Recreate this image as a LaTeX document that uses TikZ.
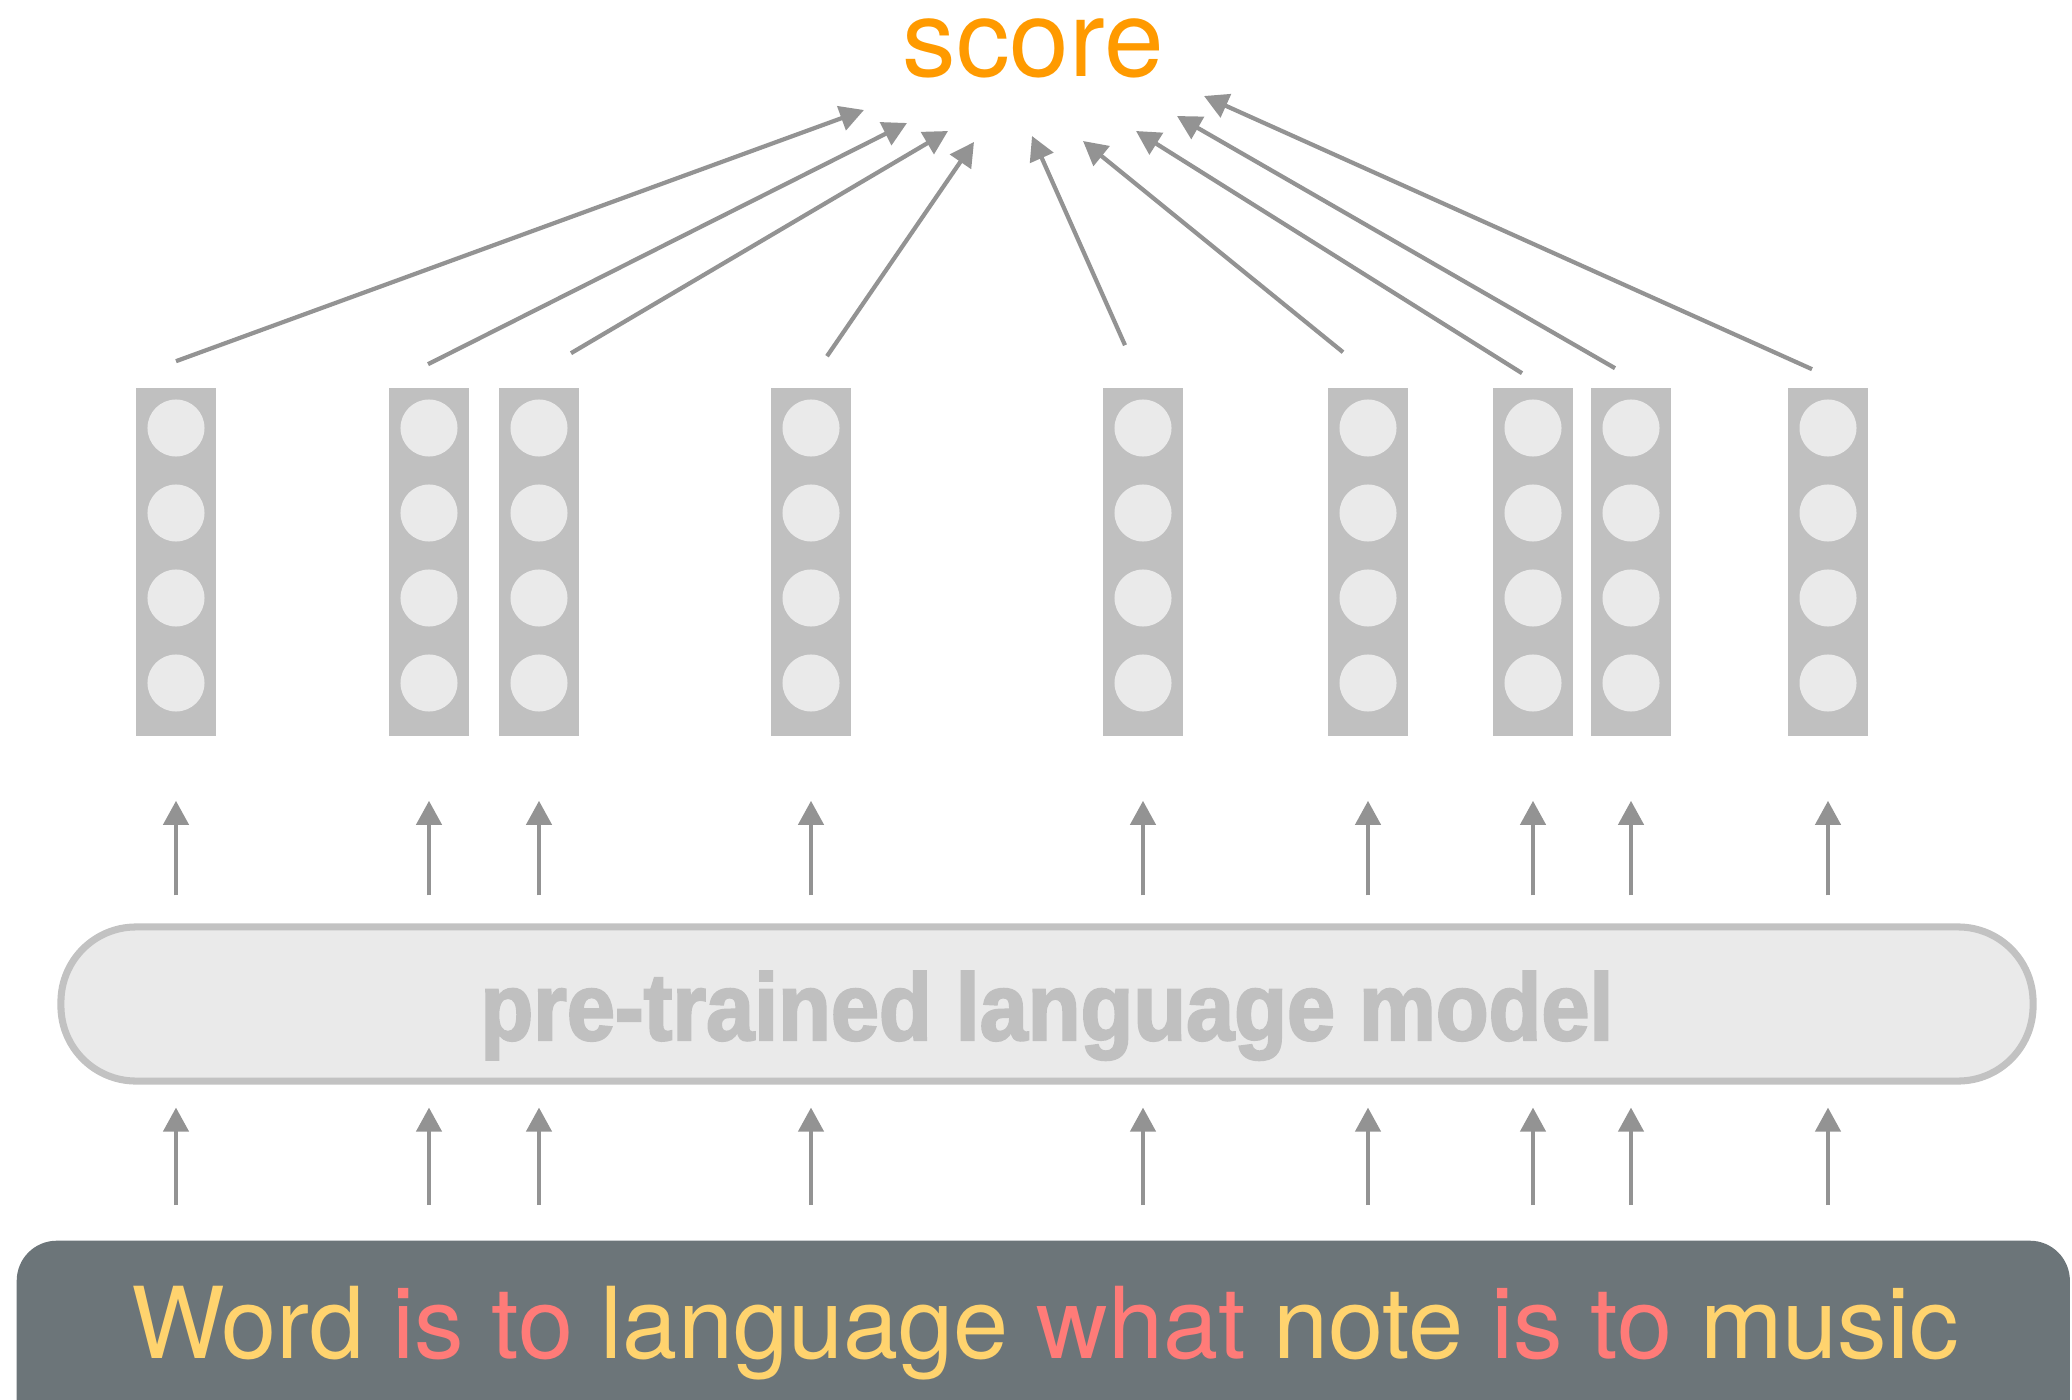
\documentclass[tikz,border=0pt]{standalone}
\usepackage{fontspec}
\setmainfont{TeX Gyre Heros}
\newfontfamily\lmfont{Liberation Sans}[FakeBold=2.5]
\usetikzlibrary{arrows.meta,calc}

\definecolor{scoreor}{HTML}{FF9A00}
\definecolor{colgray}{HTML}{C0C0C0}
\definecolor{dotgray}{HTML}{EAEAEA}
\definecolor{arrgray}{HTML}{939393}
\definecolor{lmfill}{HTML}{EAEAEA}
\definecolor{lmdraw}{HTML}{C2C2C2}
\definecolor{barcol}{HTML}{6C7579}
\definecolor{wordyel}{HTML}{FFD36E}
\definecolor{wordred}{HTML}{FF7B78}

\begin{document}
\begin{tikzpicture}[x=0.01cm,y=-0.01cm,>={Triangle[length=0.24cm,width=0.25cm]},
    col/.style={rectangle,fill=colgray,minimum width=0.79cm,minimum height=3.48cm,inner sep=0pt},
    feed/.style={arrgray,line width=1.2pt}]
  \useasboundingbox (0,0) rectangle (2072,1400);

  % output
  \node[scoreor,font=\fontsize{30.5}{36}\selectfont,anchor=base,inner sep=0pt] (score) at (1033,77) {score};

  % word vectors
  \foreach \xx [count=\i] in {176,429,539,811,1143,1368,1533,1631,1828} {
    \node[col] (c\i) at (\xx,562) {};
    \foreach \yy in {428,513,598,683}
      \fill[dotgray] (\xx,\yy) circle[radius=0.285cm];
  }

  % arrows into the score
  \foreach \i/\dx/\dy/\tx/\ty in {1/0/-26/864/110,2/-1/-23/907/123,3/32/-34/948/131,
      4/16/-31/974/142,5/-18/-42/1032/136,6/-25/-35/1083/141,7/-11/-14/1136/131,
      8/-16/-19/1177/116,9/-16/-18/1204/96} {
    \coordinate (tip\i) at (\tx,\ty);
    \draw[feed,->] ($(c\i.north)+(\dx,\dy)$) -- (tip\i);
  }

  % language model
  \node[rectangle,rounded corners=0.75cm,fill=lmfill,draw=lmdraw,line width=2pt,
        minimum width=19.71cm,minimum height=1.54cm] (lm) at (1047,1004) {};
  \node[colgray,anchor=base,inner sep=0pt] (lmname) at (1047,1040)
    {\scalebox{0.91}[1]{\lmfont\bfseries\fontsize{27}{32}\selectfont pre-trained language model}};

  % input sentence
  \node[rectangle,rounded corners=0.4cm,fill=barcol,minimum width=20.52cm,minimum height=2.4cm,
        anchor=north west] (sent) at (16,1240) {};
  \node[anchor=base,font=\fontsize{28.2}{34}\selectfont] (words) at (1045,1358)
    {\color{wordyel}Word \color{wordred}is to \color{wordyel}language
     \color{wordred}what \color{wordyel}note \color{wordred}is to \color{wordyel}music};

  % arrows between the layers
  \foreach \i in {1,...,9} {
    \draw[feed,->] ($(c\i|-lm.north)+(0,-28)$) -- ($(c\i.south)+(0,64)$);
    \draw[feed,->] ($(c\i|-sent.north)+(0,-35)$) -- ($(c\i|-lm.south)+(0,23)$);
  }
\end{tikzpicture}
\end{document}
